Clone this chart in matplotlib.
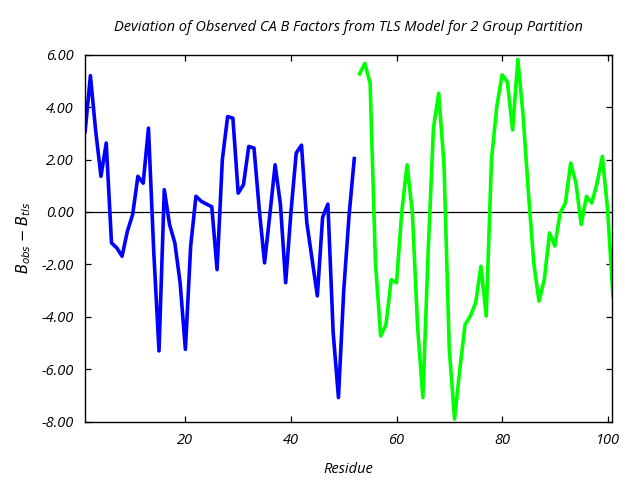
import numpy as np
import matplotlib
matplotlib.use("Agg")
import matplotlib.pyplot as plt
from matplotlib.ticker import FormatStrFormatter

# group 1 (blue), residues 1-52
res_a = list(range(1, 53))
dev_a = [3.07, 5.2, 3.1, 1.36, 2.63, -1.18, -1.37, -1.69, -0.74, -0.1,
         1.36, 1.1, 3.2, -1.5, -5.3, 0.85, -0.48, -1.18, -2.7, -5.24,
         -1.3, 0.6, 0.41, 0.3, 0.2, -2.2, 2.0, 3.64, 3.58, 0.72,
         1.04, 2.5, 2.44, 0.09, -1.94, -0.1, 1.8, 0.3, -2.7, 0.0,
         2.25, 2.55, -0.4, -1.8, -3.2, -0.2, 0.3, -4.6, -7.08, -3.0,
         -0.16, 2.04]

# group 2 (green), residues 53-101
res_b = list(range(53, 102))
dev_b = [5.27, 5.67, 4.91, -1.9, -4.73, -4.3, -2.58, -2.7, 0.0, 1.8,
         0.0, -4.4, -7.08, -1.5, 3.2, 4.53, 1.8, -5.24, -7.9, -6.0,
         -4.29, -3.97, -3.46, -2.07, -3.97, 2.0, 4.02, 5.23, 4.97, 3.13,
         5.82, 3.64, 0.72, -1.94, -3.4, -2.58, -0.8, -1.3, -0.04, 0.34,
         1.87, 1.1, -0.48, 0.6, 0.34, 1.1, 2.12, 0.09, -3.21]

yticks = [-8, -6, -4, -2, 0, 2, 4, 6]
xticks = [20, 40, 60, 80, 100]

plt.rcParams['font.family'] = ['Open Sans', 'DejaVu Sans']
plt.rcParams['font.style'] = 'italic'

fig = plt.figure(figsize=(6.4, 4.8), dpi=100)
ax = fig.add_axes([0.133, 0.1215, 0.823, 0.7645])

ax.axhline(0, color='black', linewidth=0.9, zorder=1)
ax.plot(res_a, dev_a, color='#0000ff', linewidth=2.6, zorder=2)
ax.plot(res_b, dev_b, color='#00ff00', linewidth=2.6, zorder=2)

ax.set_xlim(1, 100.8)
ax.set_ylim(-8, 6)
ax.set_xticks(xticks)
ax.set_yticks(yticks)
ax.yaxis.set_major_formatter(FormatStrFormatter('%.2f'))
ax.tick_params(direction='in', top=True, right=True, length=4, width=0.9,
               labelsize=10.5, pad=8)
for s in ax.spines.values():
    s.set_linewidth(1.0)

ax.set_title('Deviation of Observed CA B Factors from TLS Model for 2 Group Partition',
             fontsize=10.5, pad=17)
ax.set_xlabel('Residue', fontsize=10.5, labelpad=10)
ax.set_ylabel(r'$B_{obs}$ $-$ $B_{tls}$', fontsize=10.5, labelpad=6)

fig.savefig('out.png', dpi=100)
